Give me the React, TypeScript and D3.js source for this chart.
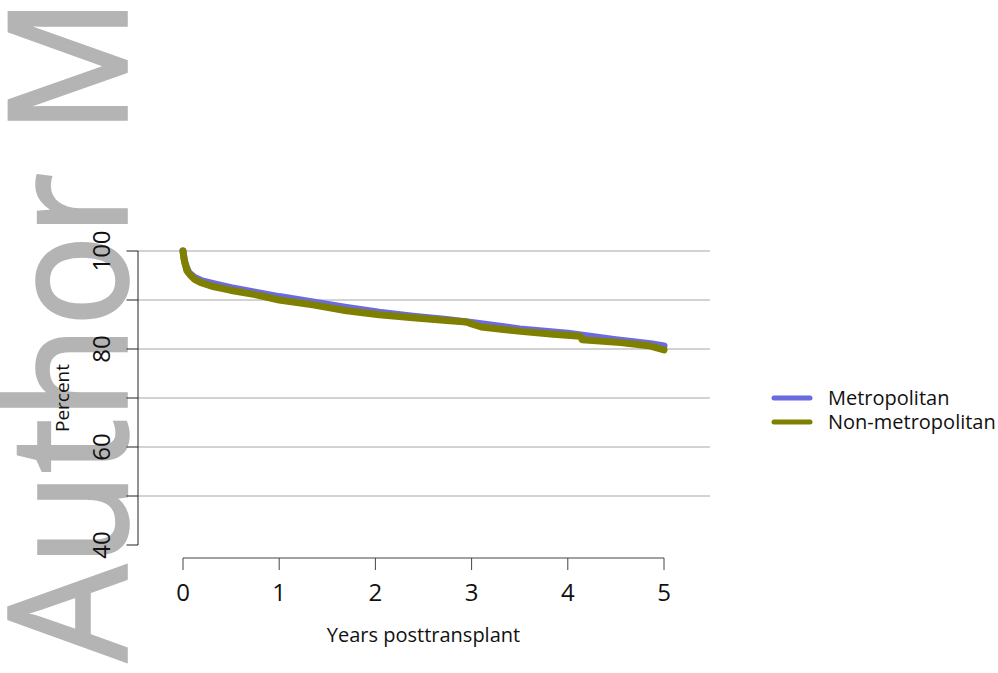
import React from "react";
import * as d3 from "d3";

const xTicks = [0, 1, 2, 3, 4, 5];
const yTicks = [40, 50, 60, 70, 80, 90, 100];
const yLabels = [40, 60, 80, 100];
const gridLines = [50, 60, 70, 80, 90, 100];

const seriesNames = ["Metropolitan", "Non-metropolitan"];
const seriesColors = ["#6b6be0", "#808000"];

const metroYears = [0, 0.01, 0.02, 0.06, 0.12, 0.2, 0.35, 0.5, 0.75, 1.0, 1.35, 1.7, 2.04, 2.39, 2.74, 3.0, 3.5, 4.0, 4.5, 4.86, 5.0];
const metroPct = [100, 98.6, 97.5, 95.6, 94.6, 93.9, 93.2, 92.5, 91.6, 90.7, 89.6, 88.5, 87.5, 86.7, 86.0, 85.4, 84.1, 83.2, 81.9, 81.1, 80.6];

const nonMetroYears = [0, 0.01, 0.04, 0.08, 0.12, 0.18, 0.3, 0.49, 0.75, 1.0, 1.35, 1.7, 2.04, 2.39, 2.74, 2.95, 3.0, 3.1, 3.51, 3.85, 4.13, 4.15, 4.55, 4.86, 5.0];
const nonMetroPct = [100, 98.5, 96.0, 95.0, 94.2, 93.6, 92.8, 92.0, 91.1, 90.0, 89.0, 87.8, 87.0, 86.4, 85.8, 85.5, 85.1, 84.5, 83.6, 83.0, 82.6, 81.9, 81.3, 80.6, 79.8];

const W = 998;
const H = 673;
const FONT = "'Open Sans', 'Noto Sans', sans-serif";

export default function App() {
  const x = d3.scaleLinear().domain([0, 5]).range([183, 664]);
  const y = d3.scaleLinear().domain([40, 100]).range([545, 251]);
  const line = d3
    .line<[number, number]>()
    .x((d) => x(d[0]))
    .y((d) => y(d[1]))
    .curve(d3.curveLinear);

  const metro: [number, number][] = metroYears.map((t, i) => [t, metroPct[i]]);
  const nonMetro: [number, number][] = nonMetroYears.map((t, i) => [t, nonMetroPct[i]]);
  const series = [metro, nonMetro];

  const axisLeft = 138;
  const axisBottom = 558;

  return (
    <svg
      width={W}
      height={H}
      style={{ position: "fixed", top: 0, left: 0, background: "#fff" }}
      fontFamily={FONT}
    >
      <rect x={0} y={0} width={W} height={H} fill="#fff" />
      {/* watermark */}
      <text
        transform="translate(125.7,-2) rotate(-90) scale(0.928,1)"
        textAnchor="end"
        fontSize={163}
        fill="#b4b4b4"
        stroke="#b4b4b4"
        strokeWidth={3.5}
        strokeLinejoin="miter"
        fontFamily={FONT}
      >
        Author M
      </text>

      {/* grid lines */}
      {gridLines.map((g) => (
        <line key={g} x1={axisLeft} x2={710} y1={y(g)} y2={y(g)} stroke="#a6a6a6" strokeWidth={1} />
      ))}

      {/* y axis */}
      <line x1={axisLeft} x2={axisLeft} y1={y(40)} y2={y(100)} stroke="#222" strokeWidth={1} />
      {yTicks.map((t) => (
        <line key={t} x1={axisLeft - 11.5} x2={axisLeft} y1={y(t)} y2={y(t)} stroke="#222" strokeWidth={1} />
      ))}
      {yLabels.map((t) => (
        <text
          key={t}
          transform={`translate(110,${y(t)}) rotate(-90)`}
          textAnchor="middle"
          fontSize={24}
          fill="#111"
        >
          {t}
        </text>
      ))}
      <text transform={`translate(68.5,${(y(40) + y(100)) / 2}) rotate(-90)`} textAnchor="middle" fontSize={19} fill="#111">
        Percent
      </text>

      {/* x axis */}
      <line x1={x(0)} x2={x(5)} y1={axisBottom} y2={axisBottom} stroke="#444" strokeWidth={1} />
      {xTicks.map((t) => (
        <g key={t}>
          <line x1={x(t)} x2={x(t)} y1={axisBottom} y2={axisBottom + 12} stroke="#444" strokeWidth={1} />
          <text x={x(t)} y={601} textAnchor="middle" fontSize={24} fill="#111">
            {t}
          </text>
        </g>
      ))}
      <text x={(x(0) + x(5)) / 2} y={642} textAnchor="middle" fontSize={20} fill="#111">
        Years posttransplant
      </text>

      {/* curves */}
      {series.map((s, i) => (
        <path
          key={i}
          d={line(s) || ""}
          fill="none"
          stroke={seriesColors[i]}
          strokeWidth={7}
          strokeLinecap="round"
          strokeLinejoin="round"
        />
      ))}

      {/* legend */}
      {seriesNames.map((n, i) => (
        <g key={n}>
          <line
            x1={774}
            x2={810}
            y1={398 + i * 24}
            y2={398 + i * 24}
            stroke={seriesColors[i]}
            strokeWidth={5}
            strokeLinecap="round"
          />
          <text x={828} y={405 + i * 24} fontSize={20} fill="#111">
            {n}
          </text>
        </g>
      ))}
    </svg>
  );
}
